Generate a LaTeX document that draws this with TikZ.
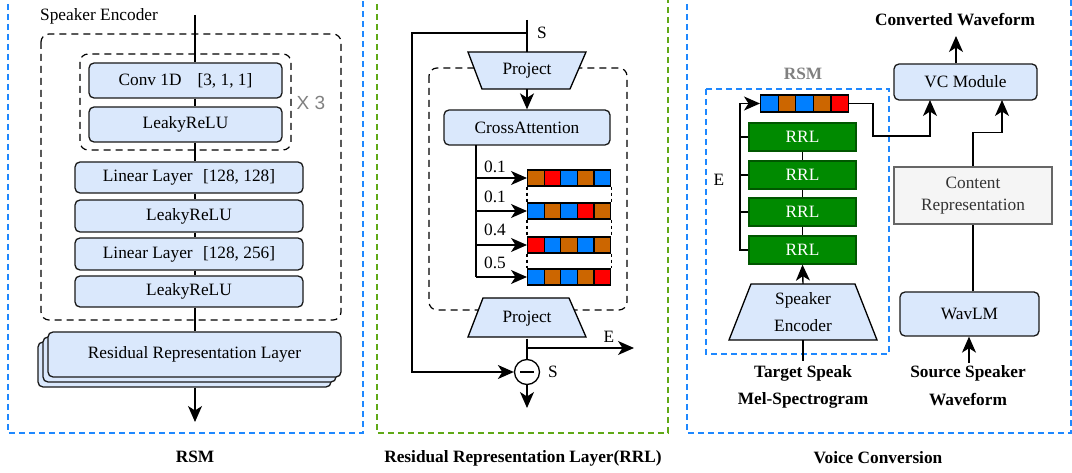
\documentclass[tikz,border=0pt]{standalone}
\usepackage{fontspec}
\setmainfont{Liberation Serif}
\newfontfamily\arialfont{Liberation Sans}
\usetikzlibrary{arrows.meta}
\definecolor{boxblue}{HTML}{DAE8FC}
\definecolor{dashblue}{HTML}{1E88FF}
\definecolor{dashgreen}{HTML}{60A917}
\definecolor{tokO}{HTML}{CC6600}
\definecolor{tokR}{HTML}{FF0000}
\definecolor{tokB}{HTML}{007FFF}
\definecolor{rrlgreen}{HTML}{008A00}
\definecolor{rrlborder}{HTML}{005700}
\definecolor{crfill}{HTML}{F5F5F5}
\definecolor{crdraw}{HTML}{666666}
\definecolor{crtext}{HTML}{333333}
\newcommand\fs{\fontsize{17.3}{20}\selectfont}
\tikzset{
  every node/.style={font=\fs, inner sep=0pt},
  box/.style={draw=black!90, fill=boxblue, rounded corners=5pt, line width=1.3pt, inner sep=0pt},
  conn/.style={line width=1.4pt, draw=black},
  arr/.style={conn, -{Stealth[length=16pt,width=14pt,inset=4.5pt]}},
  panelblue/.style={draw=dashblue, line width=1.6pt, dash pattern=on 6pt off 4pt},
  panelgreen/.style={draw=dashgreen, line width=1.6pt, dash pattern=on 6pt off 4pt},
  grp/.style={draw=black, line width=1.2pt, dash pattern=on 7pt off 5pt, rounded corners=8pt},
  trap/.style={draw=black, fill=boxblue, line width=1.3pt},
  rrlbox/.style={draw=rrlborder, fill=rrlgreen, text=white, line width=1.3pt, minimum width=107pt, minimum height=28pt},
  cell/.style={draw=black, line width=1.1pt},
  boldlbl/.style={font=\fs\bfseries},
}
% name, left x, center y, cell width, cell height, colours
\newcommand\tokrow[6]{%
  \foreach \c [count=\i] in {#6} {%
    \node[cell, fill=\c, minimum width=#4pt, minimum height=#5pt, anchor=west] (#1-\i) at ({#2+(\i-1)*#4}, #3) {};
  }%
}
\begin{document}
\begin{tikzpicture}[x=1pt,y=-1pt]
\useasboundingbox (0,0) rectangle (1072,473);

% ================= Panel 1: RSM =================
\draw[panelblue] (8,-6) rectangle (363,433);
\node[anchor=west] (selabel) at (40,16) {Speaker Encoder};
\draw[grp] (41,34) rectangle (341,320);
\draw[grp] (80,54) rectangle (291,150);
\coordinate (spinetop) at (195,15);

\node[box, minimum width=193pt, minimum height=35pt] (conv) at (185.5,80.5) {Conv 1D\hspace{16pt}[3, 1, 1]};
\node[box, minimum width=193pt, minimum height=35pt] (lr1) at (185.5,124.5) {LeakyReLU};
\node[text=gray, font=\arialfont\fontsize{19}{20}\selectfont] (x3) at (311,103) {X 3};
\node[box, minimum width=228pt, minimum height=31pt] (lin1) at (189,177.5) {Linear Layer\hspace{6pt} [128, 128]};
\node[box, minimum width=228pt, minimum height=32pt] (lr2) at (189,216) {LeakyReLU};
\node[box, minimum width=228pt, minimum height=32pt] (lin2) at (189,254) {Linear Layer\hspace{6pt} [128, 256]};
\node[box, minimum width=228pt, minimum height=31pt] (lr3) at (189,291.5) {LeakyReLU};

\node[box, minimum width=293pt, minimum height=45pt] (rrlC) at (184.5,364.5) {};
\node[box, minimum width=293pt, minimum height=45pt] (rrlB) at (189.5,359.5) {};
\node[box, minimum width=293pt, minimum height=45pt] (rrlA) at (194.5,354.5) {Residual Representation Layer};

\draw[conn] (spinetop) -- (spinetop |- conv.north);
\draw[conn] (spinetop |- conv.south) -- (spinetop |- lr1.north);
\draw[conn] (spinetop |- lr1.south) -- (spinetop |- lin1.north);
\draw[conn] (spinetop |- lin1.south) -- (spinetop |- lr2.north);
\draw[conn] (spinetop |- lr2.south) -- (spinetop |- lin2.north);
\draw[conn] (spinetop |- lin2.south) -- (spinetop |- lr3.north);
\draw[conn] (spinetop |- lr3.south) -- (spinetop |- rrlA.north);
\coordinate (rsmout) at (195,422);
\draw[arr] (rsmout |- rrlC.south) -- (rsmout);
\node[boldlbl] (cap1) at (195,457) {RSM};

% ================= Panel 2: RRL =================
\draw[panelgreen] (377,-6) rectangle (668,433);
\draw[grp] (429,68) rectangle (627,310);

\draw[trap] (468,52) -- (586,52) -- (570,89) -- (482,89) -- cycle;
\node[minimum width=118pt, minimum height=37pt] (proj1) at (527,70.5) {Project};
\draw[trap] (483,298) -- (569,298) -- (586,337) -- (468,337) -- cycle;
\node[minimum width=118pt, minimum height=39pt] (proj2) at (527,319) {Project};

\node[box, minimum width=166pt, minimum height=35pt] (ca) at (527,127.5) {CrossAttention};

\tokrow{ra}{527}{178}{16.6}{16}{tokO,tokR,tokB,tokO,tokB}
\tokrow{rb}{527}{211}{16.6}{16}{tokB,tokO,tokB,tokR,tokO}
\tokrow{rc}{527}{245}{16.6}{16}{tokR,tokB,tokO,tokB,tokO}
\tokrow{rd}{527}{277}{16.6}{16}{tokB,tokO,tokB,tokO,tokR}

\foreach \u/\v in {ra/rb, rb/rc, rc/rd} {
  \draw[line width=1.1pt, dash pattern=on 3pt off 3pt] (\u-1.south west) -- (\v-1.north west);
  \draw[line width=1.1pt, dash pattern=on 3pt off 3pt] (\u-5.south east) -- (\v-5.north east);
}

\coordinate (stop) at (527,20);
\coordinate (sbr) at (527,33);
\node[anchor=west] (slab1) at (537,33) {S};
\draw[conn] (stop) -- (proj1.north);
\draw[arr] (proj1.south) -- (ca.north);

\coordinate (cab) at (476,145);
\draw[conn] (cab) -- (cab |- rd-1.west);
\draw[arr] (cab |- ra-1.west) -- (ra-1.west);
\draw[arr] (cab |- rb-1.west) -- (rb-1.west);
\draw[arr] (cab |- rc-1.west) -- (rc-1.west);
\draw[arr] (cab |- rd-1.west) -- (rd-1.west);
\node (w1) at (495,167) {0.1};
\node (w2) at (495,197) {0.1};
\node (w3) at (495,230) {0.4};
\node (w4) at (495,263) {0.5};

\node[circle, draw=black, fill=white, line width=1.3pt, minimum size=25pt] (minus) at (527,372) {};
\draw[line width=1.3pt] ([xshift=-7pt]minus.center) -- ([xshift=7pt]minus.center);
\draw[arr] (sbr) -- (412,33) |- (minus.west);
\draw[conn] (proj2.south) -- (minus.north);
\coordinate (ebr) at (527,348);
\coordinate (eout) at (634,348);
\draw[arr] (ebr) -- (eout);
\node (elab2) at (609,337) {E};
\node[anchor=west] (slab2) at (548,372) {S};
\coordinate (sout) at (527,408);
\draw[arr] (minus.south) -- (sout);
\node[boldlbl] (cap2) at (523,458) {Residual Representation Layer(RRL)};

% ================= Panel 3: Voice Conversion =================
\draw[panelblue] (687,-6) rectangle (1071,433);
\draw[panelblue] (706,89) rectangle (889,354);
\node[font=\fs\bfseries, text=gray] (rsmlbl) at (803,74) {RSM};

\node[boldlbl] (cwlbl) at (955,20) {Converted Waveform};
\node[box, minimum width=143pt, minimum height=36pt] (vc) at (965.5,82) {VC Module};
\coordinate (cw) at (956,36);
\draw[arr] (cw |- vc.north) -- (cw);

\tokrow{tk}{760}{103.5}{17.6}{17}{tokB,tokO,tokB,tokO,tokR}

\node[rrlbox] (rrl1) at (802.5,137) {RRL};
\node[rrlbox] (rrl2) at (802.5,175) {RRL};
\node[rrlbox] (rrl3) at (802.5,212) {RRL};
\node[rrlbox] (rrl4) at (802.5,250) {RRL};
\draw[conn] (rrl1.south) -- (rrl2.north);
\draw[conn] (rrl2.south) -- (rrl3.north);
\draw[conn] (rrl3.south) -- (rrl4.north);

\draw[trap] (751,284) -- (855,284) -- (877,340) -- (729,340) -- cycle;
\node[minimum width=148pt, minimum height=56pt, align=center] (senc) at (803,312) {Speaker\\[7pt]Encoder};
\draw[arr] (senc.north) -- (rrl4.south);
\coordinate (tsin) at (803,361);
\draw[conn] (tsin) -- (senc.south);
\node[boldlbl] (ts1) at (803,373) {Target Speak};
\node[boldlbl] (ts2) at (803,400) {Mel-Spectrogram};

\coordinate (lbtop) at (740,103.5);
\draw[arr] (rrl4.west) -| (lbtop) -- (tk-1.west);
\draw[conn] (rrl1.west) -- (rrl1.west -| lbtop);
\draw[conn] (rrl2.west) -- (rrl2.west -| lbtop);
\draw[conn] (rrl3.west) -- (rrl3.west -| lbtop);
\node (elab3) at (719,180) {E};

\coordinate (vcin1) at (930,100);
\draw[arr] (tk-5.east) -| (873,136) -| (vcin1);

\node[draw=crdraw, fill=crfill, text=crtext, line width=1.3pt, minimum width=158pt, minimum height=57pt, align=center] (cr) at (973,195.5) {Content\\[2pt]Representation};
\node[box, minimum width=139pt, minimum height=44pt] (wavlm) at (969.5,314) {WavLM};
\draw[conn] (cr.south |- wavlm.north) -- (cr.south);
\coordinate (vcin2) at (1002,100);
\draw[arr] (cr.north) -- ++(0,-34) -| (vcin2);
\coordinate (srcin) at (969,363);
\draw[arr] (srcin) -- (srcin |- wavlm.south);
\node[boldlbl] (src1) at (968,373) {Source Speaker};
\node[boldlbl] (src2) at (968,400) {Waveform};

\node[boldlbl] (cap3) at (878,458) {Voice Conversion};
\end{tikzpicture}
\end{document}
